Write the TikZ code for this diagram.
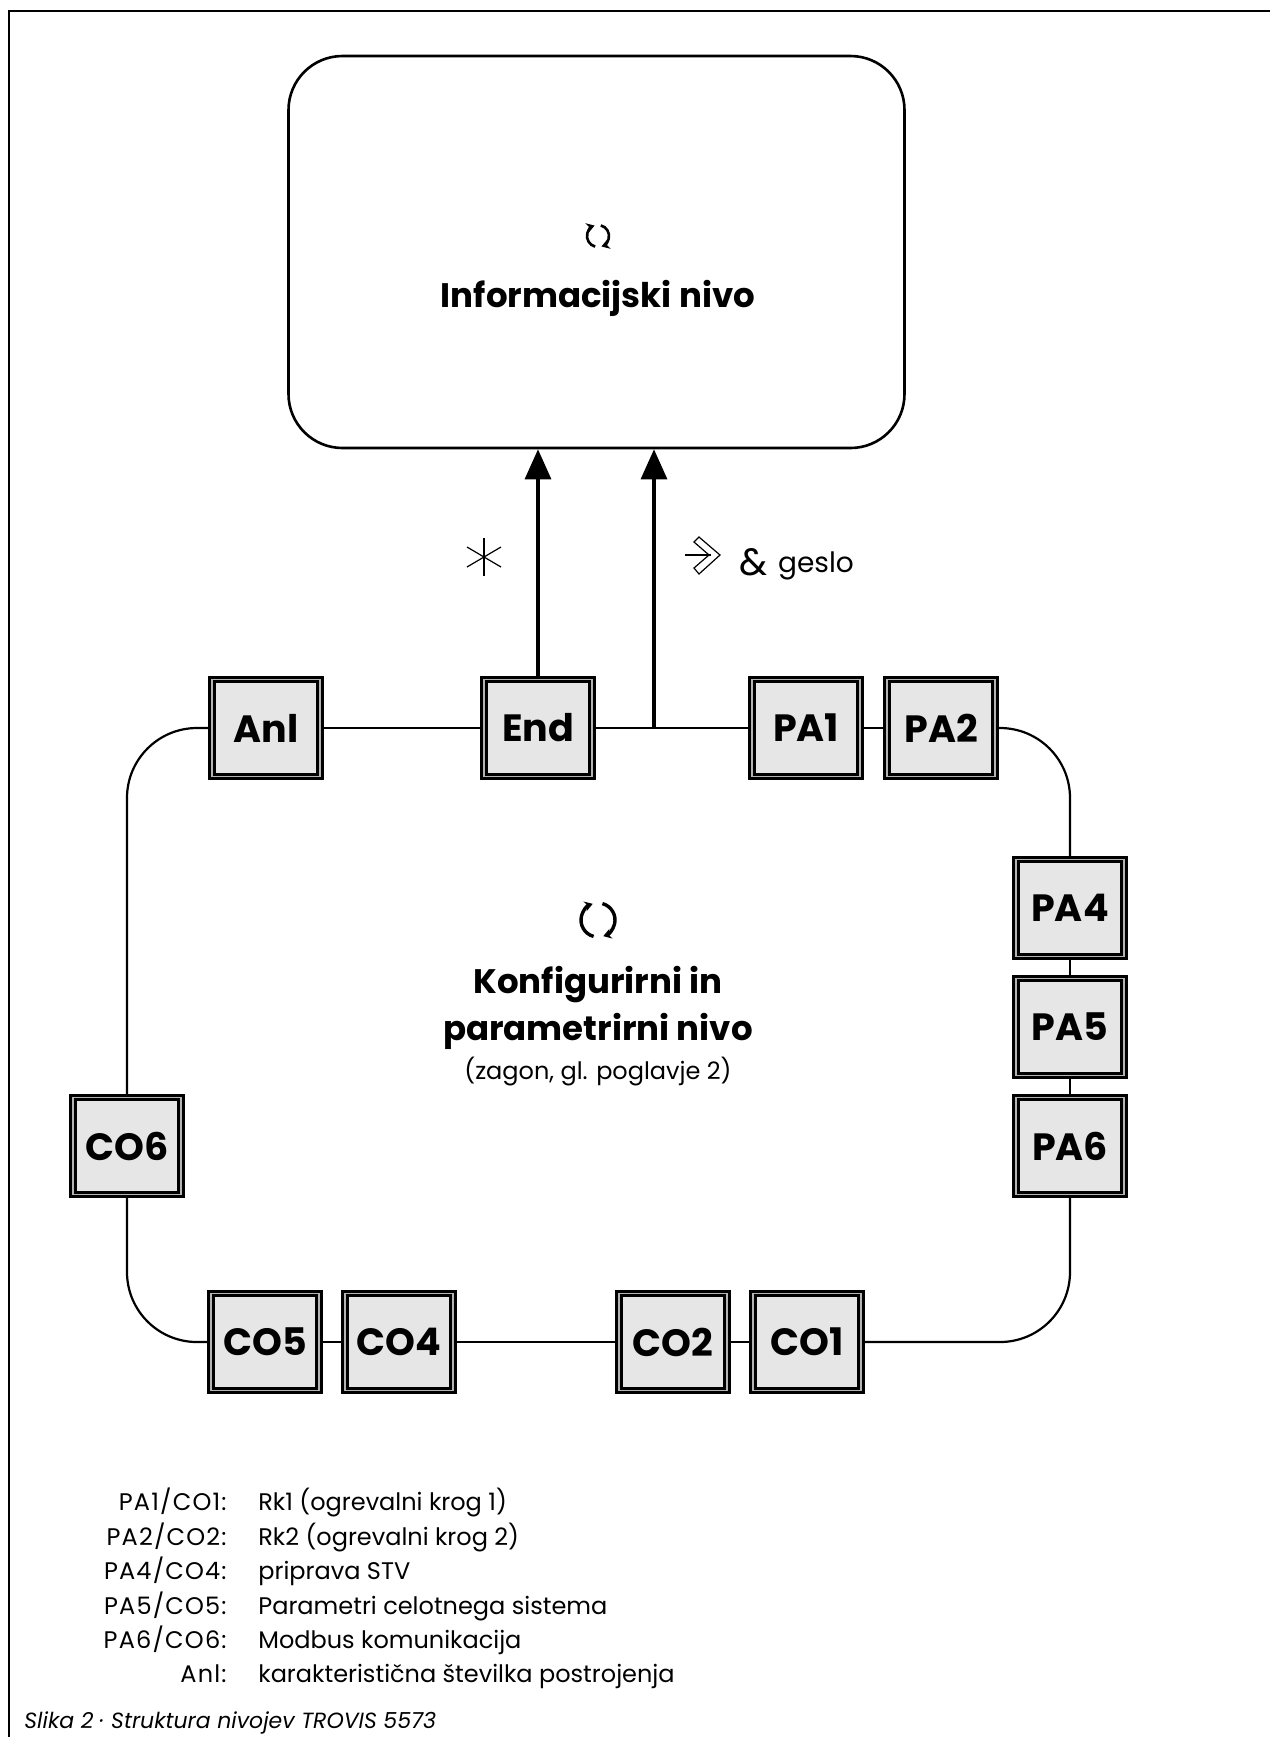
\documentclass[tikz,border=0pt]{standalone}
\usepackage{fontspec}
\setmainfont{Poppins}
\usetikzlibrary{arrows.meta}
\definecolor{keyfill}{HTML}{E6E6E6}
\definecolor{keyrim}{HTML}{B4B4B4}
% rotating-arrows icon: #1 centre coordinate, #2 radius, #3 line width
\newcommand{\turnicon}[3]{%
  \draw[iconline, line width=#3] (#1) ++(105:#2)
    arc[start angle=105, end angle=252, radius=#2];
  \draw[iconline, line width=#3] (#1) ++(-75:#2)
    arc[start angle=-75, end angle=72, radius=#2];}

\begin{document}
\begin{tikzpicture}[
  x=0.5pt, y=-0.5pt,
  font=\fontsize{12}{14}\selectfont,
  infobox/.style={draw, line width=1.3pt, rounded corners=27pt,
    minimum width=308pt, minimum height=196pt, inner sep=0pt},
  keybox/.style={draw, fill=keyfill, line width=1.5pt, double=keyrim,
    double distance=0.6pt, minimum width=54pt, minimum height=48.4pt,
    inner sep=0pt, font=\fontsize{19}{21}\selectfont\bfseries},
  heading/.style={font=\fontsize{17}{20}\selectfont\bfseries, inner sep=0pt,
    anchor=base},
  loopline/.style={line width=1.1pt},
  loopbend/.style={loopline, rounded corners=35pt},
  toinfo/.style={-{Triangle[length=15pt,width=13pt]}, line width=1.6pt},
  iconline/.style={-{Stealth[length=4pt,width=5pt]}},
  hair/.style={line width=0.6pt},
  legkey/.style={anchor=base east, inner sep=0pt,
    font=\fontsize{12}{14}\selectfont\addfontfeatures{LetterSpace=5}},
  legval/.style={anchor=base west, inner sep=0pt},
]
\useasboundingbox (0,0) rectangle (1270,1737);

% ---- page frame ----------------------------------------------------------
\draw[line width=1.1pt] (9,1745) -- (9,11) -- (1280,11);

% ---- information level ---------------------------------------------------
\node[infobox] (info) at (596.5,252) {};
\coordinate (infoicon) at (598,236);
\turnicon{infoicon}{11}{1.3pt}
\node[heading] (infotitle) at (598,307) {Informacijski nivo};

% ---- keys of the configuration loop --------------------------------------
\node[keybox] (anl) at (266,728) {Anl};
\node[keybox] (end) at (538,728) {End};
\node[keybox] (pa1) at (806,728) {PA1};
\node[keybox] (pa2) at (941,728) {PA2};
\node[keybox] (pa4) at (1070,908) {PA4};
\node[keybox] (pa5) at (1070,1027) {PA5};
\node[keybox] (pa6) at (1070,1146) {PA6};
\node[keybox] (co1) at (807,1342) {CO1};
\node[keybox] (co2) at (673,1342) {CO2};
\node[keybox] (co4) at (399,1342) {CO4};
\node[keybox] (co5) at (265,1342) {CO5};
\node[keybox] (co6) at (127,1146) {CO6};

\foreach \a/\b in {anl/end, end/pa1, pa1/pa2, pa4/pa5, pa5/pa6,
                   co1/co2, co2/co4, co4/co5}
  \draw[loopline] (\a) -- (\b);
\draw[loopbend] (pa2.east) -| (pa4.north);
\draw[loopbend] (pa6.south) |- (co1.east);
\draw[loopbend] (co5.west) -| (co6.south);
\draw[loopbend] (co6.north) |- (anl.west);

% ---- ways up to the information level -------------------------------------
\coordinate (fork) at (654,728);
\draw[toinfo] (end.north) -- (end.north |- info.south);
\draw[toinfo] (fork) -- (fork |- info.south);

% asterisk key
\coordinate (ast) at (484,557);
\draw[hair] (ast) ++(0,-19) -- ++(0,38);
\draw[hair] (ast) ++(-17,-10) -- ++(34,20);
\draw[hair] (ast) ++(-17,10) -- ++(34,-20);
% push key
\coordinate (push) at (700,555);
\draw[hair, line join=miter] (push) ++(-1,-18) -- ++(21,18) -- ++(-21,19)
  -- ++(-5,-6) -- ++(15,-13) -- ++(-15,-13) -- cycle;
\draw[hair] (push) ++(-15,0) -- ++(26,0);
\node[anchor=base, inner sep=0pt, font=\fontsize{19}{21}\selectfont]
  (amp) at (754,575) {\&};
\node[anchor=base, inner sep=0pt, font=\fontsize{14}{16}\selectfont]
  (pwd) at (816,572) {geslo};

% ---- configuration and parameter level -----------------------------------
\coordinate (cfgicon) at (598,920);
\turnicon{cfgicon}{17}{1.7pt}
\node[heading] (cfgtitle) at (598,993) {Konfigurirni in};
\node[heading] (cfgtitleb) at (598,1040) {parametrirni nivo};
\node[anchor=base, inner sep=0pt] (cfgnote) at (598,1079)
  {(zagon, gl. poglavje 2)};

% ---- legend ----------------------------------------------------------------
\foreach \y/\k/\v [count=\i] in {1510/{PA1/CO1:}/{Rk1 (ogrevalni krog 1)},
    1545/{PA2/CO2:}/{Rk2 (ogrevalni krog 2)},
    1579/{PA4/CO4:}/{priprava STV},
    1614/{PA5/CO5:}/{Parametri celotnega sistema},
    1648/{PA6/CO6:}/{Modbus komunikacija},
    1682/{Anl:}/{karakteristična številka postrojenja}}{
  \node[legkey] (lk\i) at (227,\y) {\k};
  \node[legval] (lv\i) at (258,\y) {\v};
}

\node[anchor=base west, inner sep=0pt, font=\fontsize{11}{13}\selectfont\itshape]
  (caption) at (24,1728) {Slika 2 · Struktura nivojev TROVIS 5573};

\end{tikzpicture}
\end{document}
